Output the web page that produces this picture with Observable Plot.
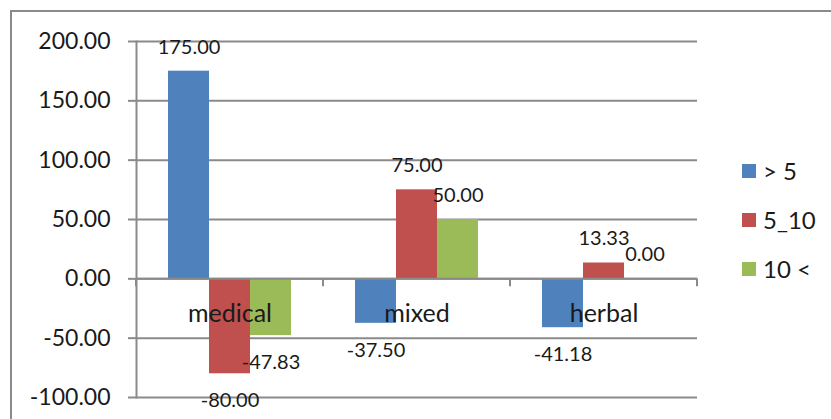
<!DOCTYPE html>
<html>
<head>
<meta charset="utf-8">
<script src="https://cdn.jsdelivr.net/npm/d3@7"></script>
<script src="https://cdn.jsdelivr.net/npm/@observablehq/plot@0.6"></script>
<style>
  body { margin: 0; background: #fff; }
  #wrap { position: relative; width: 831px; height: 419px; overflow: hidden; font-family: Lato, sans-serif; }
  #border { position: absolute; left: 10px; top: 10px; width: 900px; height: 500px; border: 2px solid #8a8a8a; }
  #chart { position: absolute; left: 0; top: 0; }
  #legend { position: absolute; left: 742px; top: 146px; }
  .item { display: flex; align-items: center; height: 49px; font-size: 24px; color: #1a1a1a; }
  .sw { width: 14px; height: 14px; margin-right: 7px; }
</style>
</head>
<body>
<div id="wrap">
  <div id="border"></div>
  <div id="chart"></div>
  <div id="legend"></div>
</div>
<script>
// Change by group and age band
const categories = ["medical", "mixed", "herbal"];
const seriesNames = ["> 5", "5_10", "10 <"];
const over5 = [175.00, -37.50, -41.18];
const from5to10 = [-80.00, 75.00, 13.33];
const under10 = [-47.83, 50.00, 0.00];
const seriesColors = ["#4F81BD", "#C0504D", "#9BBB59"];
const yTicks = [-100, -50, 0, 50, 100, 150, 200];

const seriesValues = [over5, from5to10, under10];
const rows = categories.flatMap((category, i) =>
  seriesNames.map((series, j) => ({category, series, value: seriesValues[j][i]}))
);
const fmt = d => d.toFixed(2);
const gray = "#8a8a8a";

const chart = Plot.plot({
  width: 831,
  height: 419,
  marginLeft: 135,
  marginRight: 133,
  marginTop: 41,
  marginBottom: 22,
  style: {fontFamily: "Lato, sans-serif", color: "#1a1a1a", background: "transparent", overflow: "visible"},
  fx: {domain: categories, padding: 0, axis: null},
  x: {domain: seriesNames, paddingInner: 0, paddingOuter: 0.75, axis: null},
  y: {domain: [-100, 200], axis: null},
  color: {domain: seriesNames, range: seriesColors},
  marks: [
    Plot.gridY(yTicks, {stroke: gray, strokeOpacity: 1, strokeWidth: 2}),
    Plot.barY(rows, {fx: "category", x: "series", y: "value", fill: "series"}),
    Plot.ruleY([0], {stroke: gray, strokeWidth: 2}),
    Plot.axisY(yTicks, {
      facetAnchor: "left", tickSize: 8, tickPadding: 18, tickFormat: fmt,
      fontSize: 23, stroke: gray, strokeWidth: 2, label: null
    }),
    Plot.frame({anchor: "left", facetAnchor: "left", stroke: gray, strokeWidth: 2}),
    Plot.text(rows.filter(d => d.value >= 0), {
      fx: "category", x: "series", y: "value", text: d => fmt(d.value),
      dy: -24, fontSize: 20, fill: "#1a1a1a"
    }),
    Plot.text(rows.filter(d => d.value < 0), {
      fx: "category", x: "series", y: "value", text: d => fmt(d.value),
      dy: 27, fontSize: 20, fill: "#1a1a1a"
    }),
    Plot.text(categories, {
      fx: d => d, y: () => 0, text: d => d, dy: 35, fontSize: 25, fill: "#1a1a1a"
    })
  ]
});

// Category boundary ticks hanging below the zero line
const fxScale = chart.scale("fx");
const yScale = chart.scale("y");
const edges = categories.map(c => fxScale.apply(c))
  .concat(fxScale.apply(categories[categories.length - 1]) + fxScale.bandwidth);
const y0 = yScale.apply(0);
d3.select(chart).append("g")
  .attr("stroke", gray)
  .attr("stroke-width", 2)
  .selectAll("line")
  .data(edges)
  .join("line")
  .attr("x1", d => d).attr("x2", d => d)
  .attr("y1", y0).attr("y2", y0 + 8);

document.getElementById("chart").append(chart);

// Legend
const legend = d3.select("#legend");
seriesNames.forEach((name, i) => {
  const item = legend.append("div").attr("class", "item");
  item.append("div").attr("class", "sw").style("background", seriesColors[i]);
  item.append("span").text(name);
});
</script>
</body>
</html>
